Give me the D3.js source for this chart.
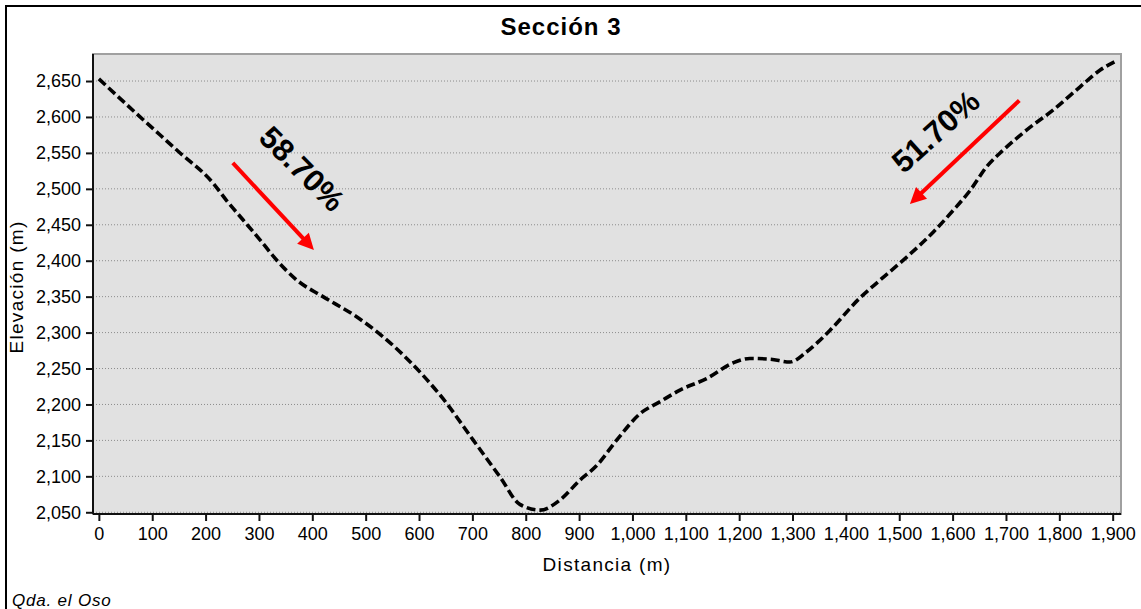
<!DOCTYPE html>
<html>
<head>
<meta charset="utf-8">
<script src="https://cdn.jsdelivr.net/npm/d3@7"></script>
<style>
  html, body { margin: 0; padding: 0; background: #fff; }
  svg { display: block; }
  text { font-family: "Liberation Sans", Arial, sans-serif; fill: #000; }
</style>
</head>
<body>
<svg id="chart" width="1141" height="609"></svg>
<script>
// Perfil topográfico — Sección 3 (Qda. el Oso)
const distancia = [0, 70, 149, 214, 239, 270, 302, 333, 371, 420, 483, 533, 577, 645, 702, 752, 789, 827, 864, 902, 933, 970, 1014, 1052, 1089, 1139, 1189, 1220, 1258, 1295, 1326, 1348, 1370, 1426, 1464, 1514, 1564, 1601, 1633, 1664, 1695, 1739, 1789, 1839, 1876, 1904];
const elevacion = [2653, 2605, 2552, 2508, 2484, 2457, 2429, 2401, 2373, 2350, 2322, 2294, 2264, 2208, 2150, 2099, 2061, 2053, 2067, 2095, 2115, 2150, 2187, 2204, 2220, 2236, 2258, 2264, 2263, 2259, 2273, 2287, 2303, 2348, 2373, 2405, 2440, 2470, 2498, 2531, 2554, 2582, 2610, 2642, 2665, 2677];

const xTicks = d3.range(0, 1901, 100);
const yTicks = d3.range(2050, 2651, 50);

// Pendientes: inicio y fin de cada flecha, con su rótulo
const pendienteTexto = ["58.70%", "51.70%"];
const flechaDesde = [[251, 2536], [1725, 2623]];
const flechaHasta = [[403, 2415], [1520, 2479]];
const rotuloPos = [[381, 2528], [1568, 2580]];
const rotuloAngulo = [45, -42];

const svg = d3.select("#chart");
const plot = { left: 93, top: 54, right: 1121, bottom: 514 };

const x = d3.scaleLinear().domain([-11, 1915.6]).range([plot.left, plot.right]);
const y = d3.scaleLinear().domain([2047.6, 2687.6]).range([plot.bottom, plot.top]);

const fmt = d3.format(",");

// outer frame
svg.append("rect")
  .attr("x", 6).attr("y", 6).attr("width", 1150).attr("height", 620)
  .attr("fill", "none").attr("stroke", "#000").attr("stroke-width", 2);

// plot background
svg.append("rect")
  .attr("x", plot.left).attr("y", plot.top)
  .attr("width", plot.right - plot.left).attr("height", plot.bottom - plot.top)
  .attr("fill", "#e1e1e1").attr("stroke", "#a0a0a0").attr("stroke-width", 2);

// horizontal gridlines
svg.append("g").selectAll("line").data(yTicks).join("line")
  .attr("x1", plot.left).attr("x2", plot.right)
  .attr("y1", d => y(d)).attr("y2", d => y(d))
  .attr("stroke", "#8c8c8c").attr("stroke-width", 1)
  .attr("stroke-dasharray", "1,2");

// axes
const yAxis = svg.append("g")
  .attr("transform", `translate(${plot.left},0)`)
  .call(d3.axisLeft(y).tickValues(yTicks).tickFormat(fmt).tickSize(7).tickPadding(5));
const xAxis = svg.append("g")
  .attr("transform", `translate(0,${plot.bottom})`)
  .call(d3.axisBottom(x).tickValues(xTicks).tickFormat(fmt).tickSize(7).tickPadding(6));

[yAxis, xAxis].forEach(g => {
  g.select(".domain").attr("stroke", "#111").attr("stroke-width", 2);
  g.selectAll(".tick line").attr("stroke", "#111").attr("stroke-width", 2);
  g.selectAll(".tick text")
    .attr("font-family", "'Liberation Sans', Arial, sans-serif")
    .attr("font-size", 18).attr("fill", "#111");
});
yAxis.select(".domain").attr("d", `M0,${plot.bottom}V${plot.top}`);
xAxis.select(".domain").attr("d", `M${plot.left},0H${plot.right}`);

// profile line
const linea = d3.line()
  .x(d => x(d[0])).y(d => y(d[1]))
  .curve(d3.curveMonotoneX);
svg.append("path")
  .datum(d3.zip(distancia, elevacion))
  .attr("d", linea)
  .attr("fill", "none").attr("stroke", "#000")
  .attr("stroke-width", 3.6)
  .attr("stroke-dasharray", "9,4");

// slope arrows
const flechas = svg.append("g");
flechaDesde.forEach((p0, i) => {
  const p1 = flechaHasta[i];
  const x0 = x(p0[0]), y0 = y(p0[1]), x1 = x(p1[0]), y1 = y(p1[1]);
  const ang = Math.atan2(y1 - y0, x1 - x0);
  const L = 16, W = 8;
  const bx = x1 - L * Math.cos(ang), by = y1 - L * Math.sin(ang);
  flechas.append("line")
    .attr("x1", x0).attr("y1", y0)
    .attr("x2", bx + 2 * Math.cos(ang)).attr("y2", by + 2 * Math.sin(ang))
    .attr("stroke", "#ff0000").attr("stroke-width", 4);
  flechas.append("path")
    .attr("d", `M${x1},${y1}L${bx - W * Math.sin(ang)},${by + W * Math.cos(ang)}L${bx + W * Math.sin(ang)},${by - W * Math.cos(ang)}Z`)
    .attr("fill", "#ff0000");
});

// slope labels
pendienteTexto.forEach((t, i) => {
  const cx = x(rotuloPos[i][0]), cy = y(rotuloPos[i][1]);
  svg.append("text")
    .attr("transform", `translate(${cx},${cy}) rotate(${rotuloAngulo[i]})`)
    .attr("text-anchor", "middle").attr("dy", "0.35em")
    .attr("font-size", 31).attr("font-weight", "bold")
    .text(t);
});

// title
svg.append("text")
  .attr("x", 561).attr("y", 35)
  .attr("text-anchor", "middle")
  .attr("font-size", 24).attr("font-weight", "bold")
  .attr("letter-spacing", 1)
  .text("Sección 3");

// axis titles
svg.append("text")
  .attr("x", 607).attr("y", 571)
  .attr("text-anchor", "middle")
  .attr("font-size", 19).attr("letter-spacing", 1.3)
  .attr("fill", "#111")
  .text("Distancia (m)");
svg.append("text")
  .attr("transform", `translate(23,${(plot.top + plot.bottom) / 2 + 3}) rotate(-90)`)
  .attr("text-anchor", "middle")
  .attr("font-size", 19).attr("letter-spacing", 1.3)
  .attr("fill", "#111")
  .text("Elevación (m)");

// footer
svg.append("text")
  .attr("x", 12).attr("y", 606)
  .attr("font-size", 17).attr("font-style", "italic")
  .attr("letter-spacing", 0.8)
  .attr("fill", "#111")
  .text("Qda. el Oso");
</script>
</body>
</html>
